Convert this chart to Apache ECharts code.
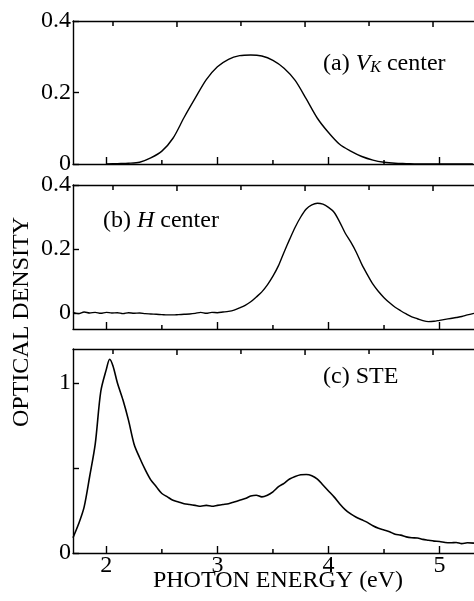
<!DOCTYPE html>
<html>
<head>
<meta charset="utf-8">
<script src="https://cdn.jsdelivr.net/npm/echarts@6/dist/echarts.min.js"></script>
<style>
  html, body { margin: 0; padding: 0; background: #fff; }
  #chart { width: 474px; height: 601px; }
</style>
</head>
<body>
<div id="chart"></div>
<script>
// (a) V_K center
const energyA = [2.0, 2.1, 2.2, 2.3, 2.4, 2.5, 2.6, 2.7, 2.8, 2.9, 3.0, 3.1, 3.2, 3.3, 3.4, 3.5, 3.6, 3.7, 3.8, 3.9, 4.0, 4.1, 4.2, 4.3, 4.4, 4.5, 4.6, 4.7, 4.8, 5.3];
const densityA = [0, 0.001, 0.002, 0.005, 0.017, 0.036, 0.072, 0.13, 0.184, 0.236, 0.272, 0.293, 0.303, 0.305, 0.302, 0.29, 0.268, 0.234, 0.182, 0.128, 0.088, 0.055, 0.036, 0.021, 0.011, 0.005, 0.002, 0.001, 0, 0];

// (b) H center
const energyB = [1.70, 1.75, 1.80, 1.85, 1.90, 1.95, 2.00, 2.05, 2.10, 2.15, 2.20, 2.25, 2.30, 2.35, 2.40, 2.45, 2.50, 2.55, 2.60, 2.65, 2.70, 2.75, 2.80, 2.85, 2.90, 2.95, 3.00, 3.05, 3.10, 3.15, 3.20, 3.25, 3.30, 3.35, 3.40, 3.45, 3.50, 3.55, 3.60, 3.65, 3.70, 3.75, 3.80, 3.85, 3.90, 3.95, 4.00, 4.05, 4.10, 4.15, 4.20, 4.25, 4.30, 4.35, 4.40, 4.45, 4.50, 4.55, 4.60, 4.65, 4.70, 4.75, 4.80, 4.85, 4.90, 4.95, 5.00, 5.05, 5.10, 5.15, 5.20, 5.25, 5.31];
const densityB = [0.002, -0.002, 0.003, 0.000, 0.002, -0.001, 0.002, 0.000, 0.001, -0.002, 0.001, -0.001, 0.000, -0.002, -0.003, -0.004, -0.005, -0.006, -0.006, -0.005, -0.004, -0.003, -0.001, 0.002, -0.001, 0.002, 0.001, 0.003, 0.005, 0.009, 0.016, 0.024, 0.035, 0.05, 0.066, 0.088, 0.115, 0.148, 0.19, 0.23, 0.268, 0.3, 0.325, 0.338, 0.343, 0.34, 0.33, 0.315, 0.285, 0.25, 0.222, 0.19, 0.152, 0.12, 0.09, 0.067, 0.048, 0.032, 0.018, 0.007, -0.003, -0.012, -0.018, -0.024, -0.027, -0.026, -0.023, -0.02, -0.017, -0.014, -0.011, -0.006, -0.001];

// (c) STE
const energyC = [1.70, 1.75, 1.80, 1.85, 1.90, 1.95, 2.00, 2.03, 2.06, 2.10, 2.15, 2.20, 2.25, 2.30, 2.35, 2.40, 2.45, 2.50, 2.55, 2.60, 2.65, 2.70, 2.75, 2.80, 2.85, 2.90, 2.95, 3.00, 3.05, 3.10, 3.15, 3.20, 3.25, 3.30, 3.35, 3.40, 3.45, 3.50, 3.55, 3.60, 3.65, 3.70, 3.75, 3.80, 3.85, 3.90, 3.95, 4.00, 4.05, 4.10, 4.15, 4.20, 4.25, 4.30, 4.35, 4.40, 4.45, 4.50, 4.55, 4.60, 4.65, 4.70, 4.75, 4.80, 4.85, 4.90, 4.95, 5.00, 5.05, 5.10, 5.15, 5.20, 5.25, 5.31];
const densityC = [0.09, 0.17, 0.27, 0.45, 0.64, 0.95, 1.08, 1.14, 1.10, 1.00, 0.90, 0.78, 0.64, 0.56, 0.49, 0.43, 0.39, 0.35, 0.33, 0.31, 0.30, 0.29, 0.285, 0.28, 0.275, 0.28, 0.275, 0.28, 0.285, 0.29, 0.30, 0.31, 0.32, 0.335, 0.34, 0.33, 0.34, 0.36, 0.39, 0.41, 0.435, 0.45, 0.46, 0.462, 0.455, 0.435, 0.40, 0.365, 0.33, 0.29, 0.255, 0.23, 0.21, 0.195, 0.18, 0.16, 0.145, 0.135, 0.125, 0.11, 0.105, 0.095, 0.09, 0.088, 0.08, 0.075, 0.07, 0.068, 0.062, 0.06, 0.062, 0.055, 0.06, 0.058];

// ticks
const bottomMajorTicks = [2, 3, 4, 5];
const bottomMinorTicks = [2.5, 3.5, 4.5];
const topMajorTicks = [2.636, 3.789, 4.941];
const topMinorTicks = [2.06, 3.212, 4.365];
const yTicksA = [0, 0.2, 0.4];
const yTicksB = [0, 0.2, 0.4];
const yTicksC = [0, 0.5, 1];
const yLabelsC = [0, 1];

const FONT = "Liberation Serif";
const xMin = 1.7, xMax = 5.31;
const yRanges = [[0, 0.4], [-0.05, 0.4], [0, 1.2]];

const zip = (xs, ys) => xs.map((x, i) => [x, ys[i]]);

const grids = [
  { left: 73, right: 0, top: 21, height: 143 },
  { left: 73, right: 0, top: 185, height: 144 },
  { left: 73, right: 0, top: 349, height: 204 }
];

const xAxes = [];
const mainX = [];
grids.forEach((g, gi) => {
  const showLabel = gi === 2;
  mainX.push(xAxes.length);
  xAxes.push({
    type: "value", gridIndex: gi, position: "bottom", min: xMin, max: xMax,
    axisLine: { show: true, onZero: false, lineStyle: { color: "#000", width: 1.4 } },
    axisTick: { show: true, inside: true, length: 7, customValues: bottomMajorTicks, lineStyle: { color: "#000", width: 1.4 } },
    axisLabel: {
      show: true, customValues: bottomMajorTicks, margin: 1, fontFamily: FONT,
      color: showLabel ? "#000" : "rgba(0,0,0,0)", fontSize: showLabel ? 24 : 6
    },
    splitLine: { show: false }
  });
  // top frame line only; its ticks are drawn by the custom series below
  xAxes.push({
    type: "value", gridIndex: gi, position: "top", min: xMin, max: xMax,
    axisLine: { show: true, onZero: false, lineStyle: { color: "#000", width: 1.4 } },
    axisTick: { show: false },
    axisLabel: { show: false },
    splitLine: { show: false }
  });
});

const yAxis = (gi, ticks, labels) => ({
  type: "value", gridIndex: gi, min: yRanges[gi][0], max: yRanges[gi][1],
  axisLine: { show: true, onZero: false, lineStyle: { color: "#000", width: 1.4 } },
  axisTick: { show: true, inside: true, length: 6, customValues: ticks, lineStyle: { color: "#000", width: 1.4 } },
  axisLabel: { show: true, customValues: labels, margin: 2, color: "#000", fontFamily: FONT, fontSize: 24 },
  splitLine: { show: false }
});

const lineSeries = (gi, data, width) => ({
  type: "line",
  xAxisIndex: mainX[gi],
  yAxisIndex: gi,
  data: data,
  showSymbol: false,
  smooth: 0.3,
  lineStyle: { color: "#000", width: width },
  animation: false
});

// short frame ticks, placed through the axes' own scales
const tickSeries = (gi, values, atTop, len) => ({
  type: "custom",
  xAxisIndex: mainX[gi],
  yAxisIndex: gi,
  silent: true,
  clip: false,
  z: 10,
  animation: false,
  data: values.map(v => [v, atTop ? yRanges[gi][1] : yRanges[gi][0]]),
  renderItem: (params, api) => {
    const p = api.coord([api.value(0), api.value(1)]);
    const d = atTop ? len : -len;
    return {
      type: "line",
      shape: { x1: p[0], y1: p[1], x2: p[0], y2: p[1] + d },
      style: { stroke: "#000", lineWidth: 1.5 }
    };
  }
});

const ticks = [];
grids.forEach((g, gi) => {
  ticks.push(tickSeries(gi, topMajorTicks, true, 6));
  ticks.push(tickSeries(gi, topMinorTicks, true, 5));
  ticks.push(tickSeries(gi, bottomMinorTicks, false, 4));
});

const chart = echarts.init(document.getElementById("chart"), null, { renderer: "canvas" });
chart.setOption({
  backgroundColor: "#fff",
  animation: false,
  grid: grids,
  xAxis: xAxes,
  yAxis: [
    yAxis(0, yTicksA, yTicksA),
    yAxis(1, yTicksB, yTicksB),
    yAxis(2, yTicksC, yLabelsC)
  ],
  series: [
    lineSeries(0, zip(energyA, densityA), 1.4),
    lineSeries(1, zip(energyB, densityB), 1.4),
    lineSeries(2, zip(energyC, densityC), 1.6)
  ].concat(ticks),
  graphic: [
    {
      type: "text", left: 323, top: 50,
      style: {
        text: "(a) {i|V}{sub|K} center",
        fill: "#000", font: "24px '" + FONT + "'",
        rich: {
          i: { fontStyle: "italic", fontSize: 24, fontFamily: FONT },
          sub: { fontStyle: "italic", fontSize: 16, fontFamily: FONT, verticalAlign: "bottom", lineHeight: 14, padding: [10, 0, 0, 0] }
        }
      }
    },
    {
      type: "text", left: 103, top: 209,
      style: {
        text: "(b) {i|H} center",
        fill: "#000", font: "24px '" + FONT + "'",
        rich: { i: { fontStyle: "italic", fontSize: 24, fontFamily: FONT } }
      }
    },
    {
      type: "text", left: 323, top: 365,
      style: { text: "(c) STE", fill: "#000", font: "24px '" + FONT + "'" }
    },
    {
      type: "text", x: 278, y: 581,
      style: { text: "PHOTON ENERGY (eV)", fill: "#000", font: "24px '" + FONT + "'", align: "center", verticalAlign: "middle" }
    },
    {
      type: "text", x: 22, y: 322, rotation: Math.PI / 2,
      style: { text: "OPTICAL DENSITY", fill: "#000", font: "24px '" + FONT + "'", align: "center", verticalAlign: "middle" }
    }
  ]
});
</script>
</body>
</html>
